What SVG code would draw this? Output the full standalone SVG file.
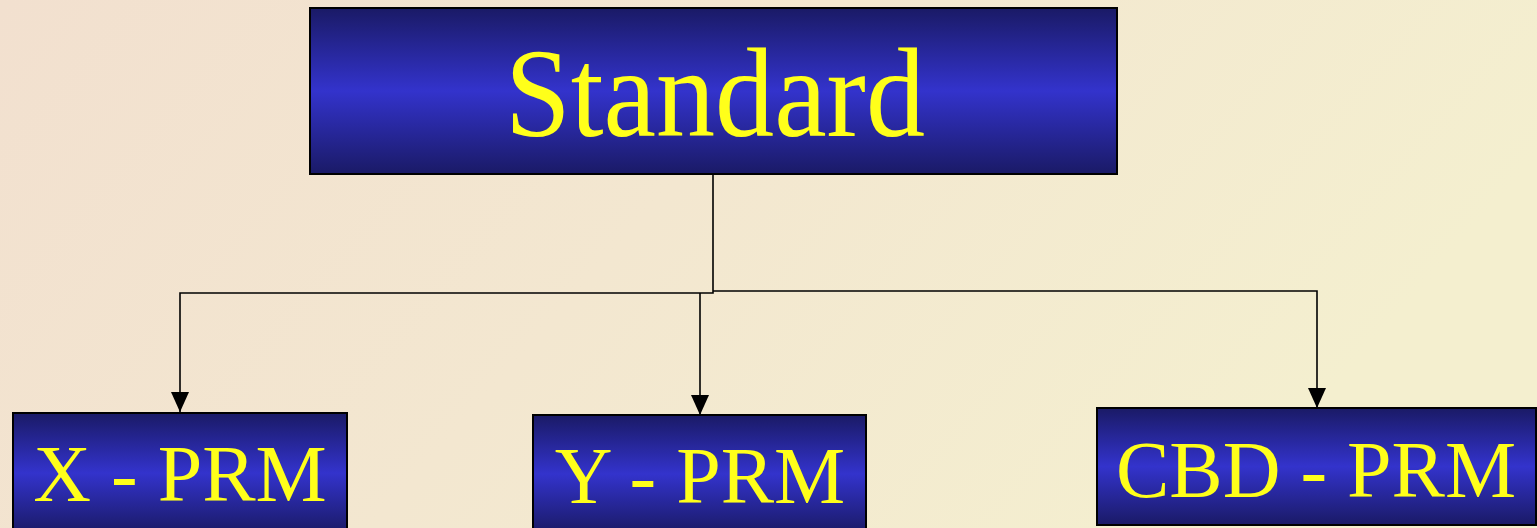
<svg xmlns="http://www.w3.org/2000/svg" width="1537" height="528" viewBox="0 0 1537 528">
<defs>
<linearGradient id="bg" x1="0" y1="0" x2="1" y2="0.3">
<stop offset="0" stop-color="#f2e0cf"/>
<stop offset="0.5" stop-color="#f3e7d0"/>
<stop offset="1" stop-color="#f4efcf"/>
</linearGradient>
<linearGradient id="box" x1="0" y1="0" x2="0" y2="1">
<stop offset="0" stop-color="#1a1a66"/>
<stop offset="0.5" stop-color="#3333cc"/>
<stop offset="1" stop-color="#1a1a66"/>
</linearGradient>
<marker id="arr" markerWidth="18" markerHeight="20" refX="9" refY="20" orient="0" markerUnits="userSpaceOnUse">
<path d="M0,0 L18,0 L9,20 Z" fill="#000"/>
</marker>
<style>
.node rect{fill:url(#box);stroke:#000;stroke-width:2}
.node text{fill:#ffff1a;font-family:"Liberation Serif","Times New Roman",serif;text-anchor:middle}
.conn path{fill:none;stroke:#000;stroke-width:1.6}
</style>
</defs>
<rect x="0" y="0" width="1537" height="528" fill="url(#bg)"/>
<g id="connectors" class="conn">
<path d="M713,174 L713,293 L180,293 L180,412" marker-end="url(#arr)"/>
<path d="M700,293 L700,415" marker-end="url(#arr)"/>
<path d="M713,291 L1317,291 L1317,408" marker-end="url(#arr)"/>
</g>
<g id="standard" class="node">
<rect x="310" y="8" width="807" height="166"/>
<text x="715" y="136" font-size="126" textLength="420" lengthAdjust="spacingAndGlyphs">Standard</text>
</g>
<g id="x-prm" class="node">
<rect x="13" y="413" width="334" height="120"/>
<text x="180" y="501" font-size="80">X - PRM</text>
</g>
<g id="y-prm" class="node">
<rect x="533" y="415" width="333" height="118"/>
<text x="700" y="503" font-size="80">Y - PRM</text>
</g>
<g id="cbd-prm" class="node">
<rect x="1097" y="408" width="439" height="117"/>
<text x="1316" y="497" font-size="80">CBD - PRM</text>
</g>
</svg>
